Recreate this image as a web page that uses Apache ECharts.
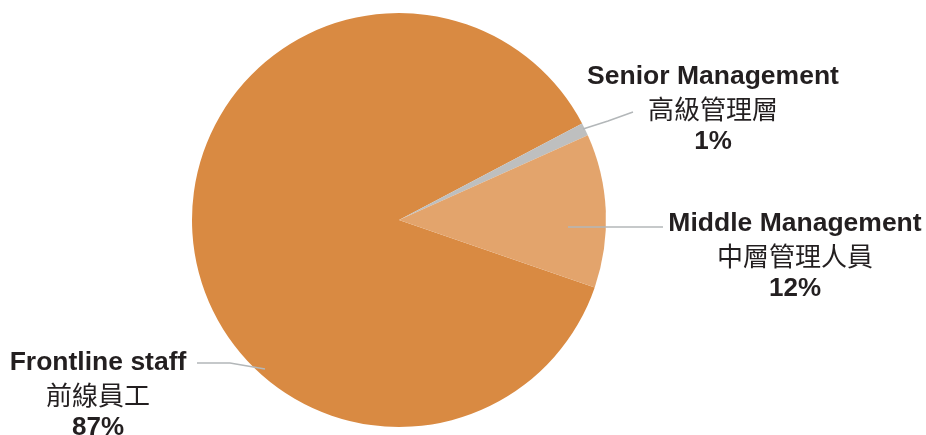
<!DOCTYPE html>
<html>
<head>
<meta charset="utf-8">
<script src="https://cdn.jsdelivr.net/npm/echarts@6/dist/echarts.min.js"></script>
<style>
  html, body { margin: 0; padding: 0; background: #ffffff; }
  #chart { width: 926px; height: 435px; }
</style>
</head>
<body>
<div id="chart"></div>
<script>
// staff breakdown, in pie order (clockwise)
const names = ['Frontline staff', 'Senior Management', 'Middle Management'];
const namesZh = ['前線員工', '高級管理層', '中層管理人員'];
const shares = [87, 1, 12];
const colors = ['#D98A42', '#BEBFBF', '#E3A46C'];

// where each label sits and how its leader line runs
const labelSpots = [
    { x: 98, y: 395, line: [[265, 369], [230, 363], [197, 363]] },
    { x: 713, y: 109, line: [[583, 129], [608, 121], [633, 112]] },
    { x: 795, y: 256, line: [[568, 227], [615, 227], [663, 227]] }
];

let pieData = names.map(function (n, i) {
    return {
        name: n,
        value: shares[i],
        zh: namesZh[i],
        itemStyle: { color: colors[i] }
    };
});

// same slices, invisible, only to carry labels + leader lines above the pie
let labelData = names.map(function (n, i) {
    return {
        name: n,
        value: shares[i],
        zh: namesZh[i],
        itemStyle: { color: 'rgba(0,0,0,0)' }
    };
});

let pieBase = {
    type: 'pie',
    center: [399, 220],
    radius: 207,
    startAngle: -19,
    clockwise: true,
    avoidLabelOverlap: false,
    silent: true
};

let option = {
    animation: false,
    backgroundColor: '#ffffff',
    series: [
        Object.assign({}, pieBase, {
            z: 2,
            data: pieData,
            label: { show: false },
            labelLine: { show: false }
        }),
        Object.assign({}, pieBase, {
            z: 5,
            data: labelData,
            label: {
                show: true,
                position: 'outside',
                formatter: function (p) {
                    return '{en|' + p.name + '}\n{zh|' + p.data.zh + '}\n{pct|' + p.value + '%}';
                },
                rich: {
                    en: {
                        fontFamily: 'Liberation Sans, Arial, sans-serif',
                        fontWeight: 'bold',
                        fontSize: 26.5,
                        color: '#231F20',
                        lineHeight: 33,
                        align: 'center'
                    },
                    zh: {
                        fontFamily: 'Noto Sans CJK TC',
                        fontSize: 26,
                        color: '#231F20',
                        lineHeight: 32,
                        align: 'center'
                    },
                    pct: {
                        fontFamily: 'Liberation Sans, Arial, sans-serif',
                        fontWeight: 'bold',
                        fontSize: 26,
                        color: '#231F20',
                        lineHeight: 32,
                        align: 'center'
                    }
                }
            },
            labelLine: {
                show: true,
                smooth: false,
                lineStyle: { color: '#B3B7B9', width: 1.5 }
            },
            labelLayout: function (params) {
                let s = labelSpots[params.dataIndex];
                return {
                    x: s.x,
                    y: s.y,
                    align: 'center',
                    verticalAlign: 'middle',
                    labelLinePoints: s.line
                };
            }
        })
    ]
};

let myChart = echarts.init(document.getElementById('chart'));
myChart.setOption(option);
</script>
</body>
</html>
